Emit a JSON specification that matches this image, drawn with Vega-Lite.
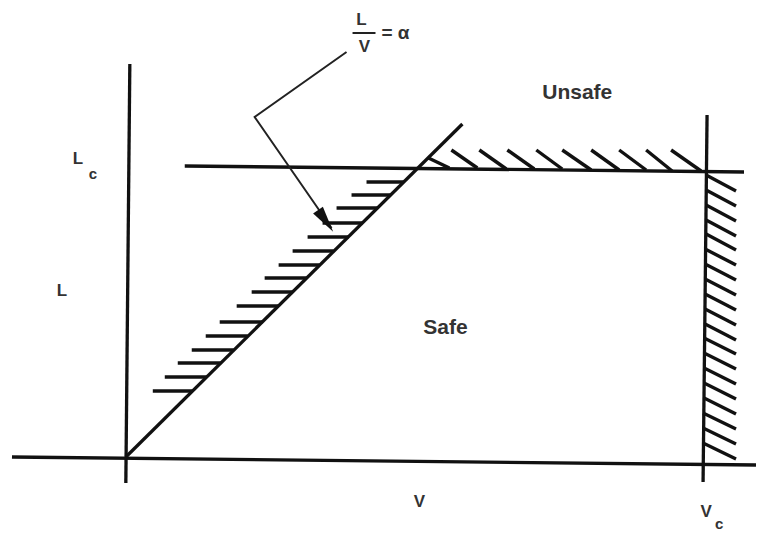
{
  "$schema": "https://vega.github.io/schema/vega-lite/v6.json",
  "width": 758,
  "height": 535,
  "padding": 0,
  "autosize": {"type": "fit", "contains": "padding"},
  "background": "white",
  "config": {"view": {"stroke": null}},
  "datasets": {
    "frame": [
      {"x": 130, "y": 471, "x2": 126, "y2": 52},
      {"x": 12, "y": 78, "x2": 757, "y2": 70},
      {"x": 126, "y": 78, "x2": 463, "y2": 411},
      {"x": 185, "y": 369, "x2": 745, "y2": 363},
      {"x": 708, "y": 420, "x2": 704, "y2": 53}
    ],
    "hatch": [
      {"x": 367, "y": 353, "x2": 404, "y2": 353},
      {"x": 352, "y": 340, "x2": 391, "y2": 340},
      {"x": 337, "y": 327, "x2": 378, "y2": 327},
      {"x": 323, "y": 312, "x2": 363, "y2": 312},
      {"x": 308, "y": 298, "x2": 349, "y2": 298},
      {"x": 293, "y": 284, "x2": 334, "y2": 284},
      {"x": 279, "y": 270, "x2": 320, "y2": 270},
      {"x": 265, "y": 257, "x2": 307, "y2": 257},
      {"x": 252, "y": 243, "x2": 293, "y2": 243},
      {"x": 237, "y": 229, "x2": 279, "y2": 229},
      {"x": 220, "y": 213, "x2": 263, "y2": 213},
      {"x": 206, "y": 199, "x2": 248, "y2": 199},
      {"x": 192, "y": 185, "x2": 234, "y2": 185},
      {"x": 178, "y": 172, "x2": 221, "y2": 172},
      {"x": 165, "y": 158, "x2": 207, "y2": 158},
      {"x": 153, "y": 144, "x2": 193, "y2": 144},
      {"x": 429, "y": 377, "x2": 450, "y2": 367},
      {"x": 452, "y": 385, "x2": 478, "y2": 367},
      {"x": 480, "y": 385, "x2": 507, "y2": 366},
      {"x": 508, "y": 385, "x2": 535, "y2": 366},
      {"x": 537, "y": 385, "x2": 563, "y2": 366},
      {"x": 563, "y": 385, "x2": 592, "y2": 365},
      {"x": 592, "y": 385, "x2": 620, "y2": 365},
      {"x": 620, "y": 385, "x2": 647, "y2": 365},
      {"x": 647, "y": 385, "x2": 673, "y2": 364},
      {"x": 672, "y": 385, "x2": 702, "y2": 364},
      {"x": 707, "y": 360, "x2": 737, "y2": 344},
      {"x": 707, "y": 345, "x2": 737, "y2": 329},
      {"x": 707, "y": 330, "x2": 737, "y2": 314},
      {"x": 707, "y": 315, "x2": 737, "y2": 299},
      {"x": 707, "y": 301, "x2": 737, "y2": 285},
      {"x": 706, "y": 286, "x2": 737, "y2": 270},
      {"x": 706, "y": 271, "x2": 737, "y2": 255},
      {"x": 706, "y": 256, "x2": 737, "y2": 240},
      {"x": 706, "y": 241, "x2": 737, "y2": 225},
      {"x": 706, "y": 226, "x2": 737, "y2": 210},
      {"x": 706, "y": 211, "x2": 737, "y2": 195},
      {"x": 705, "y": 197, "x2": 737, "y2": 181},
      {"x": 705, "y": 182, "x2": 737, "y2": 166},
      {"x": 705, "y": 167, "x2": 737, "y2": 151},
      {"x": 705, "y": 152, "x2": 737, "y2": 136},
      {"x": 705, "y": 137, "x2": 737, "y2": 121},
      {"x": 704, "y": 122, "x2": 737, "y2": 106},
      {"x": 704, "y": 107, "x2": 737, "y2": 91},
      {"x": 704, "y": 92, "x2": 737, "y2": 76}
    ],
    "bar": [
      {"x": 353, "y": 502, "x2": 376, "y2": 502}
    ],
    "arrow": [
      {"x": 347, "y": 483, "o": 1},
      {"x": 255, "y": 418, "o": 2},
      {"x": 332, "y": 307, "o": 3}
    ],
    "head": [
      {"x": 326, "y": 314}
    ],
    "big": [
      {"x": 578, "y": 442, "t": "Unsafe"},
      {"x": 446, "y": 207, "t": "Safe"}
    ],
    "labels": [
      {"x": 78, "y": 376, "t": "L"},
      {"x": 62, "y": 244, "t": "L"},
      {"x": 420, "y": 33, "t": "V"},
      {"x": 707, "y": 23, "t": "V"},
      {"x": 362, "y": 515, "t": "L"},
      {"x": 365, "y": 488, "t": "V"}
    ],
    "subs": [
      {"x": 93, "y": 361, "t": "c"},
      {"x": 720, "y": 11, "t": "c"}
    ],
    "eq": [
      {"x": 382, "y": 502, "t": "= α"}
    ]
  },
  "encoding": {
    "x": {"field": "x", "type": "quantitative", "scale": {"domain": [0, 758], "nice": false, "zero": false}, "axis": null},
    "y": {"field": "y", "type": "quantitative", "scale": {"domain": [0, 535], "nice": false, "zero": false}, "axis": null}
  },
  "layer": [
    {
      "data": {"name": "frame"},
      "mark": {"type": "rule", "color": "#111", "strokeWidth": 3.3},
      "encoding": {"x2": {"field": "x2"}, "y2": {"field": "y2"}}
    },
    {
      "data": {"name": "hatch"},
      "mark": {"type": "rule", "color": "#111", "strokeWidth": 3.4},
      "encoding": {"x2": {"field": "x2"}, "y2": {"field": "y2"}}
    },
    {
      "data": {"name": "bar"},
      "mark": {"type": "rule", "color": "#222", "strokeWidth": 2},
      "encoding": {"x2": {"field": "x2"}, "y2": {"field": "y2"}}
    },
    {
      "data": {"name": "arrow"},
      "mark": {"type": "line", "color": "#222", "strokeWidth": 2, "strokeJoin": "miter"},
      "encoding": {"order": {"field": "o", "type": "quantitative"}}
    },
    {
      "data": {"name": "head"},
      "mark": {"type": "point", "shape": "M0,-1L0.45,1L-0.45,1Z", "filled": true, "color": "#111", "size": 700, "angle": 145, "opacity": 1}
    },
    {
      "data": {"name": "big"},
      "mark": {"type": "text", "font": "Liberation Sans", "fontWeight": "bold", "fontSize": 21, "color": "#333", "align": "center", "baseline": "middle"},
      "encoding": {"text": {"field": "t"}}
    },
    {
      "data": {"name": "labels"},
      "mark": {"type": "text", "font": "Liberation Sans", "fontWeight": "bold", "fontSize": 17, "color": "#333", "align": "center", "baseline": "middle"},
      "encoding": {"text": {"field": "t"}}
    },
    {
      "data": {"name": "subs"},
      "mark": {"type": "text", "font": "Liberation Sans", "fontWeight": "bold", "fontSize": 15, "color": "#333", "align": "center", "baseline": "middle"},
      "encoding": {"text": {"field": "t"}}
    },
    {
      "data": {"name": "eq"},
      "mark": {"type": "text", "font": "Liberation Sans", "fontWeight": "bold", "fontSize": 19, "color": "#333", "align": "left", "baseline": "middle"},
      "encoding": {"text": {"field": "t"}}
    }
  ]
}
